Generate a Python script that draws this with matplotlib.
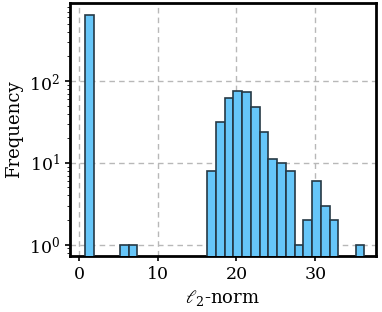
import matplotlib
matplotlib.use("Agg")
import matplotlib.pyplot as plt
import numpy as np

plt.rcParams['font.family'] = ['DejaVu Serif']
plt.rcParams['mathtext.fontset'] = 'dejavuserif'

# histogram data (32 equal bins from min to max of the l2-norms)
bin_lo = 0.76
bin_hi = 36.25
n_bins = 32
counts = [650, 0, 0, 0, 1, 1, 0, 0, 0, 0, 0, 0, 0, 0,
          8, 32, 62, 75, 73, 48, 24, 11, 10, 8, 1, 2, 6, 3, 2, 0, 0, 1]

edges = np.linspace(bin_lo, bin_hi, n_bins + 1)
centers = 0.5 * (edges[:-1] + edges[1:])

fig = plt.figure(figsize=(3.82, 3.12), dpi=100)
ax = fig.add_axes([0.183, 0.179, 0.801, 0.811])

ax.hist(centers, bins=edges, weights=counts, log=True,
        facecolor='#66c6f9', edgecolor='#263945', linewidth=1.2, zorder=3)

ax.set_xlim(-1.15, 37.7)
ax.set_xticks([0, 10, 20, 30])
ax.grid(True, linestyle=(0, (4, 3)), color='#b8b8b8', linewidth=1.0, zorder=0)
ax.set_axisbelow(True)

for s in ax.spines.values():
    s.set_linewidth(2.0)
ax.tick_params(labelsize=12.5, width=1.2)
ax.set_xlabel(r'$\ell_2$-norm', fontsize=13)
ax.set_ylabel('Frequency', fontsize=13)

fig.savefig('out.png', dpi=100, facecolor='white')
